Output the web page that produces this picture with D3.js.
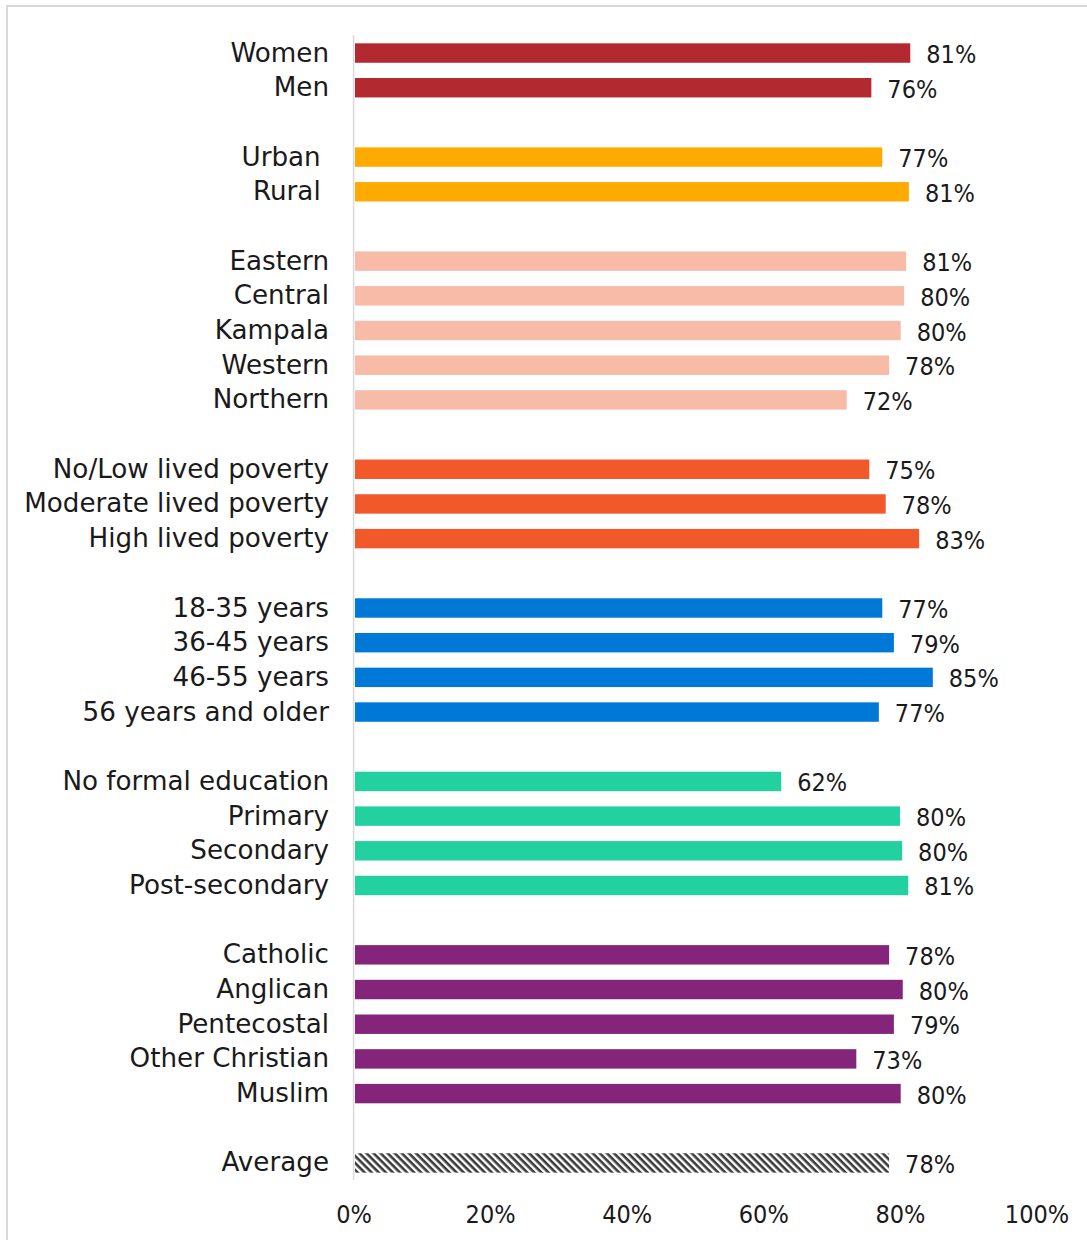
<!DOCTYPE html>
<html>
<head>
<meta charset="utf-8">
<script src="https://cdn.jsdelivr.net/npm/d3@7"></script>
<style>
  html, body { margin: 0; padding: 0; background: #fff; }
  svg { display: block; }
</style>
</head>
<body>
<svg id="chart" width="1087" height="1240"></svg>
<script>
// ---- Data ----
const categories = [
  "Women", "Men", "",
  "Urban ", "Rural ", "",
  "Eastern", "Central", "Kampala", "Western", "Northern", "",
  "No/Low lived poverty", "Moderate lived poverty", "High lived poverty", "",
  "18-35 years", "36-45 years", "46-55 years", "56 years and older", "",
  "No formal education", "Primary", "Secondary", "Post-secondary", "",
  "Catholic", "Anglican", "Pentecostal", "Other Christian", "Muslim", "",
  "Average"
];
const values = [
  81.3, 75.6, null,
  77.2, 81.1, null,
  80.7, 80.4, 79.9, 78.2, 72.0, null,
  75.3, 77.7, 82.6, null,
  77.2, 78.9, 84.6, 76.7, null,
  62.4, 79.8, 80.1, 81.0, null,
  78.2, 80.2, 78.9, 73.4, 79.9, null,
  78.2
];
const groups = [
  "gender", "gender", null,
  "location", "location", null,
  "region", "region", "region", "region", "region", null,
  "poverty", "poverty", "poverty", null,
  "age", "age", "age", "age", null,
  "education", "education", "education", "education", null,
  "religion", "religion", "religion", "religion", "religion", null,
  "average"
];
const groupNames = ["gender", "location", "region", "poverty", "age", "education", "religion", "average"];
const groupColors = ["#B2292F", "#FFAA00", "#F8BBA8", "#F1592A", "#0078D7", "#22D19F", "#84247A", "url(#hatch)"];
const tickValues = [0, 20, 40, 60, 80, 100];

// ---- Chart ----
const svg = d3.select("#chart");

// hatch pattern for Average
const defs = svg.append("defs");
const pat = defs.append("pattern")
  .attr("id", "hatch")
  .attr("patternUnits", "userSpaceOnUse")
  .attr("width", 5).attr("height", 5)
  .attr("patternTransform", "rotate(45)");
pat.append("rect").attr("width", 5).attr("height", 5).attr("fill", "#ffffff");
pat.append("rect").attr("x", 0).attr("y", 0).attr("width", 5).attr("height", 2.6).attr("fill", "#3a3a3a");

// outer frame
svg.append("rect")
  .attr("x", 7).attr("y", 6)
  .attr("width", 1200).attr("height", 1400)
  .attr("fill", "none").attr("stroke", "#d9d9d9").attr("stroke-width", 2);

const x = d3.scaleLinear().domain([0, 100]).range([355, 1038]);
const y = d3.scaleBand()
  .domain(d3.range(categories.length))
  .range([35.7, 1180.3])
  .paddingInner(0.44)
  .paddingOuter(0.22);
const color = d3.scaleOrdinal().domain(groupNames).range(groupColors);

const rows = categories.map((c, i) => ({ label: c, value: values[i], group: groups[i], i }))
  .filter(d => d.value !== null);

// bars
svg.append("g").selectAll("rect")
  .data(rows)
  .join("rect")
  .attr("x", x(0))
  .attr("y", d => y(d.i))
  .attr("width", d => x(d.value) - x(0))
  .attr("height", y.bandwidth())
  .attr("fill", d => color(d.group));

// vertical axis line
svg.append("line")
  .attr("x1", 353.6).attr("x2", 353.6)
  .attr("y1", 35).attr("y2", 1180)
  .attr("stroke", "#d9d9d9").attr("stroke-width", 1.5);

// category labels
svg.append("g").selectAll("text")
  .data(rows)
  .join("text")
  .attr("x", 329)
  .attr("y", d => y(d.i) + y.bandwidth() / 2 + 8.5)
  .attr("text-anchor", "end")
  .style("white-space", "pre")
  .attr("font-family", "'DejaVu Sans', sans-serif")
  .attr("font-size", 26.2)
  .attr("fill", "#1a1a1a")
  .text(d => d.label);

// value labels
svg.append("g").selectAll("text")
  .data(rows)
  .join("text")
  .attr("x", d => x(d.value) + 16)
  .attr("y", d => y(d.i) + y.bandwidth() / 2 + 10)
  .attr("font-family", "'DejaVu Sans Condensed', 'Liberation Sans', sans-serif")
  .attr("font-size", 25)
  .attr("fill", "#1a1a1a")
  .text(d => Math.round(d.value) + "%");

// x axis tick labels
const xAxis = d3.axisBottom(x)
  .tickValues(tickValues)
  .tickFormat(d => d + "%")
  .tickSize(0)
  .tickPadding(0);
const gx = svg.append("g").attr("transform", "translate(0,1205)").call(xAxis);
gx.select(".domain").remove();
gx.selectAll("text")
  .attr("dy", "0")
  .attr("y", 18)
  .attr("font-family", "'DejaVu Sans Condensed', 'Liberation Sans', sans-serif")
  .attr("font-size", 25)
  .attr("fill", "#1a1a1a");
gx.selectAll(".tick").attr("transform", d => `translate(${x(d) - 1},0)`);
</script>
</body>
</html>
